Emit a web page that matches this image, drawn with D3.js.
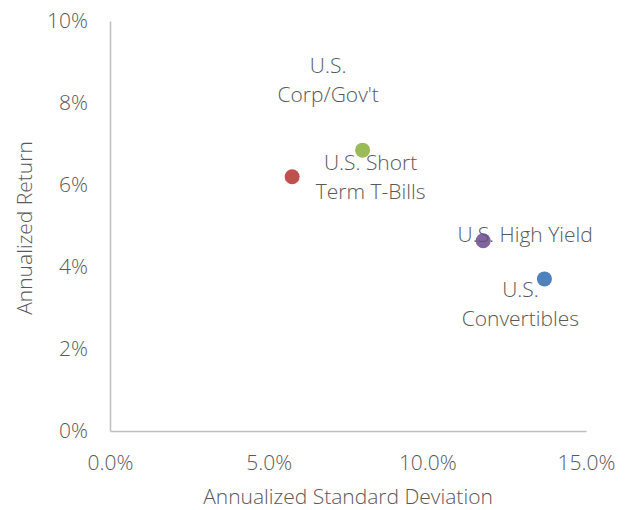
<!DOCTYPE html>
<meta charset="utf-8">
<style>
  body { margin: 0; background: #fff; }
  text { font-family: "Open Sans", sans-serif; font-weight: 300; fill: #595959; }
</style>
<div id="chart"></div>
<script src="https://d3js.org/d3.v7.min.js"></script>
<script>
// data (percent)
const names = ["U.S. Convertibles", "U.S. Corp/Gov't", "U.S. Short Term T-Bills", "U.S. High Yield"];
const stdDev = [13.69, 5.74, 7.96, 11.76];
const annReturn = [3.71, 6.20, 6.85, 4.64];
const colors = ["#4f81bd", "#c0504d", "#9bbb59", "#8064a2"];
const xTicks = [0, 5, 10, 15];
const yTicks = [0, 2, 4, 6, 8, 10];

// label placement (lines + offset of first line's centre from the point), like moved Excel data labels
const labelLines = [["U.S.", "Convertibles"], ["U.S.", "Corp/Gov't"], ["U.S. Short", "Term T-Bills"], ["U.S. High Yield"]];
const labelOffset = [[-24, 11], [36, -111], [8, 13], [42, -6]];

const W = 633, H = 510;
const margin = {top: 21, right: 47, bottom: 79, left: 110};
const fs = 21;

const svg = d3.select("#chart").append("svg")
    .attr("width", W).attr("height", H);

const x = d3.scaleLinear().domain([0, 15]).range([margin.left, W - margin.right]);
const y = d3.scaleLinear().domain([0, 10]).range([H - margin.bottom, margin.top]);

// axes (line only, no tick marks)
const xAxis = svg.append("g")
    .attr("transform", `translate(0,${y(0)})`)
    .call(d3.axisBottom(x).tickValues(xTicks).tickSize(0).tickPadding(24)
      .tickFormat(d => d.toFixed(1) + "%"));
const yAxis = svg.append("g")
    .attr("transform", `translate(${x(0)},0)`)
    .call(d3.axisLeft(y).tickValues(yTicks).tickSize(0).tickPadding(22)
      .tickFormat(d => d + "%"));

[xAxis, yAxis].forEach(a => {
  a.select(".domain").attr("stroke", "#bfbfbf").attr("stroke-width", 1.5);
  a.selectAll("text").attr("font-size", fs).style("font-family", "Open Sans").attr("fill", "#595959");
});

// axis titles
svg.append("text")
    .attr("x", (x(0) + x(15)) / 2).attr("y", 504)
    .attr("text-anchor", "middle").attr("font-size", fs)
    .text("Annualized Standard Deviation");
svg.append("text")
    .attr("transform", `translate(32,${(y(0) + y(10)) / 2 + 2}) rotate(-90)`)
    .attr("text-anchor", "middle").attr("font-size", fs)
    .text("Annualized Return");

const pts = names.map((n, i) => ({name: n, sd: stdDev[i], ret: annReturn[i], i}));

// points
svg.selectAll("circle").data(pts).join("circle")
    .attr("cx", d => x(d.sd))
    .attr("cy", d => y(d.ret))
    .attr("r", 7.5)
    .attr("fill", d => colors[d.i]);

// data labels
const lab = svg.selectAll("text.lab").data(pts).join("text")
    .attr("class", "lab")
    .attr("text-anchor", "middle")
    .attr("font-size", fs);
lab.selectAll("tspan").data(d => labelLines[d.i].map((t, k) => ({t, k, d}))).join("tspan")
    .attr("x", v => x(v.d.sd) + labelOffset[v.d.i][0])
    .attr("y", v => y(v.d.ret) + labelOffset[v.d.i][1] + 7 + v.k * 29)
    .text(v => v.t);
</script>
